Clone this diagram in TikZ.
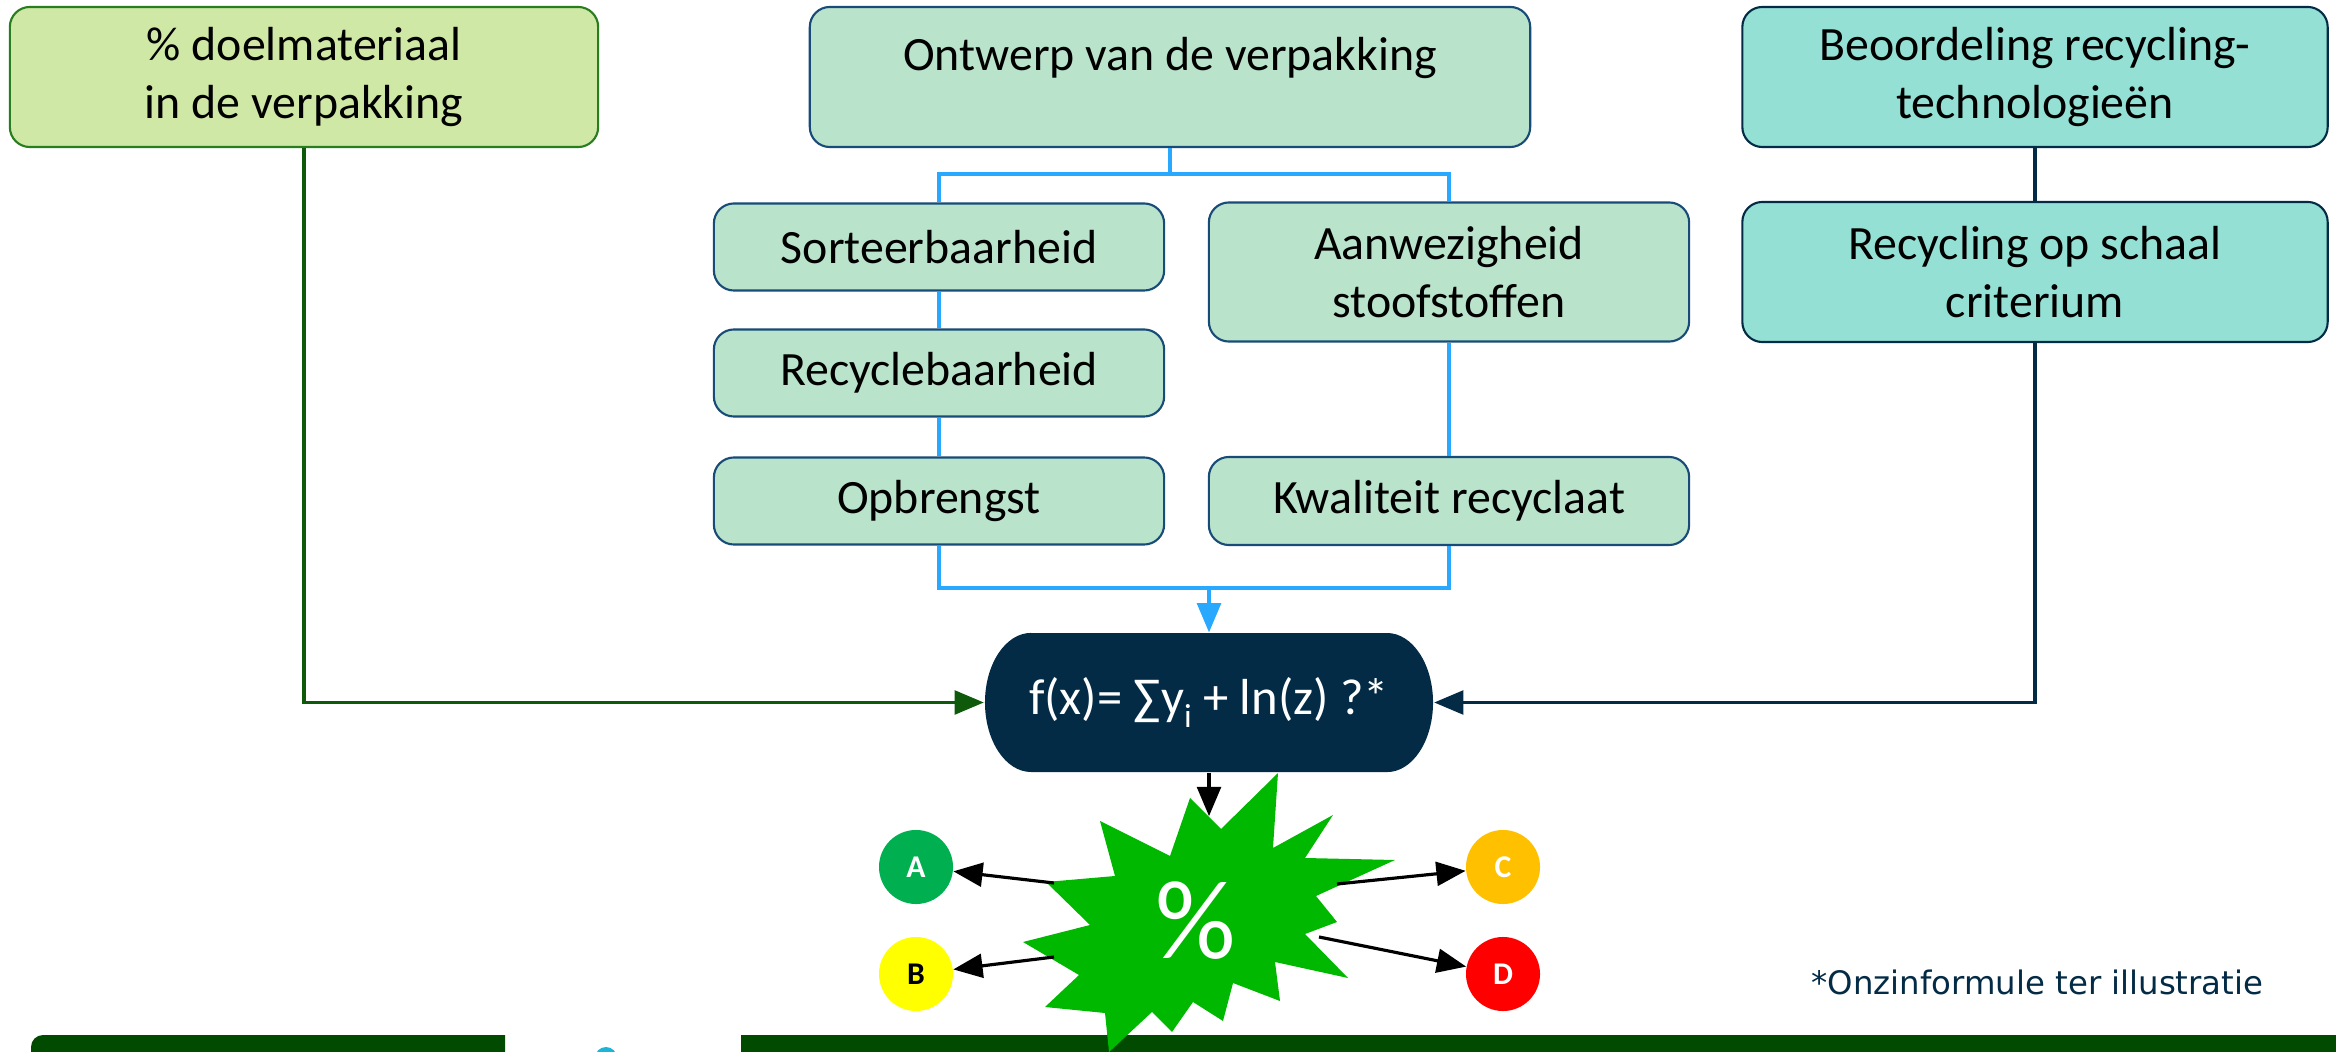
\documentclass[tikz,border=0pt]{standalone}
\usepackage{fontspec}
\setmainfont{Carlito}
\newfontfamily\notefont{DejaVu Sans}
\usepackage{pgf,tikz}
\usetikzlibrary{arrows}

\definecolor{doelgroen}{RGB}{207,232,166}
\definecolor{doelrand}{RGB}{40,125,30}
\definecolor{mint}{RGB}{185,227,202}
\definecolor{mintrand}{RGB}{25,75,120}
\definecolor{turkoois}{RGB}{148,224,212}
\definecolor{nachtblauw}{RGB}{3,43,70}
\definecolor{lijnblauw}{RGB}{40,168,255}
\definecolor{lijngroen}{RGB}{15,90,10}
\definecolor{stergroen}{RGB}{0,184,0}
\definecolor{balk}{RGB}{0,75,0}
\definecolor{stip}{RGB}{30,180,215}
\definecolor{klasA}{RGB}{0,176,80}
\definecolor{klasB}{RGB}{255,255,0}
\definecolor{klasC}{RGB}{255,192,0}
\definecolor{klasD}{RGB}{255,0,0}

\tikzset{
	blok/.style={rounded corners=0.2cm, line width=0.6pt, inner sep=0pt, align=center,
		font=\fontsize{13.6pt}{16.5pt}\selectfont},
	doelblok/.style={blok, fill=doelgroen, draw=doelrand},
	mintblok/.style={blok, fill=mint, draw=mintrand},
	techblok/.style={blok, fill=turkoois, draw=nachtblauw},
	klasse/.style={circle, inner sep=0pt, minimum size=0.74cm,
		font=\bfseries\fontsize{9pt}{9pt}\selectfont},
	pijl/.style={line width=0.9pt, color=black}
}

\begin{document}
\begin{tikzpicture}[x=0.01cm, y=-0.01cm, >=triangle 45]
	\useasboundingbox (0,0) rectangle (2336,1052);

	% bovenste rij
	\node[doelblok, minimum width=5.88cm, minimum height=1.4cm] (doel) at (304,77) {\% doelmateriaal\\in de verpakking};
	\node[mintblok, minimum width=7.2cm, text height=0.64cm, text depth=0.76cm] (ontwerp) at (1170,77) {Ontwerp van de verpakking};
	\node[techblok, minimum width=5.85cm, minimum height=1.4cm] (beoordeling) at (2035,77) {Beoordeling recycling-\\technologieën};
	\node[techblok, minimum width=5.85cm, minimum height=1.4cm] (schaal) at (2035,272) {Recycling op schaal\\criterium};

	% criteria ontwerp
	\node[mintblok, minimum width=4.5cm, minimum height=0.87cm] (sorteer) at (939,247) {Sorteerbaarheid};
	\node[mintblok, minimum width=4.5cm, minimum height=0.87cm] (recycle) at (939,373) {Recyclebaarheid};
	\node[mintblok, minimum width=4.5cm, minimum height=0.87cm] (opbrengst) at (939,501) {Opbrengst};
	\node[mintblok, minimum width=4.8cm, minimum height=1.39cm] (aanwezig) at (1449,272) {Aanwezigheid\\stoofstoffen};
	\node[mintblok, minimum width=4.8cm, minimum height=0.88cm] (kwaliteit) at (1449,501) {Kwaliteit recyclaat};

	% formule
	\fill[nachtblauw] (1031,633) -- (1387,633) arc[start angle=90, end angle=-90, x radius=0.46cm, y radius=0.695cm]
		-- (1031,772) arc[start angle=270, end angle=90, x radius=0.46cm, y radius=0.695cm] -- cycle;
	\node[text=white, inner sep=0pt, minimum width=4.49cm, minimum height=1.39cm, font=\fontsize{14.4pt}{17pt}\selectfont]
		(formule) at (1209,702.5) {f(x)= ∑y\raisebox{-0.55ex}{\fontsize{9.5pt}{9.5pt}\selectfont i} + ln(z) ?*};

	% lijnen
	\coordinate (splits) at (1170,174);
	\coordinate (samen) at (1209,588);
	\draw[line width=0.9pt, lijnblauw] (ontwerp.south) -- (splits);
	\draw[line width=0.9pt, lijnblauw] (sorteer.north) |- (splits) -| (aanwezig.north);
	\draw[line width=0.9pt, lijnblauw] (sorteer.south) -- (recycle.north);
	\draw[line width=0.9pt, lijnblauw] (recycle.south) -- (opbrengst.north);
	\draw[line width=0.9pt, lijnblauw] (aanwezig.south) -- (kwaliteit.north);
	\draw[line width=0.9pt, lijnblauw] (opbrengst.south) |- (samen) -| (kwaliteit.south);
	\draw[->, line width=0.9pt, lijnblauw] (samen) -- (formule.north);
	\draw[->, line width=0.9pt, lijngroen] (doel.south) |- (formule.west);
	\draw[line width=0.9pt, nachtblauw] (beoordeling.south) -- (schaal.north);
	\draw[->, line width=0.9pt, nachtblauw] (schaal.south) |- (formule.east);

	% balk onderaan
	\fill[balk, rounded corners=0.12cm] (31,1100) -- (31,1035) [sharp corners] -- (505,1035) -- (505,1100) -- cycle;
	\fill[balk] (741,1035) rectangle (2400,1100);
	\fill[stip] (606,1058) circle[radius=0.11cm];

	% ster
	\fill[stergroen] (1046,882) -- (1090,925) -- (1023,942) -- (1079,975) -- (1045,1007) -- (1105,1013)
		-- (1109,1052) -- (1152,1012) -- (1172,1032) -- (1193,1002) -- (1223,1021) -- (1233,983)
		-- (1280,1001) -- (1275,962) -- (1348,978) -- (1305,934) -- (1337,922) -- (1316,896)
		-- (1395,860) -- (1305,858) -- (1333,815) -- (1273,848) -- (1278,773) -- (1221,829)
		-- (1190,798) -- (1170,856) -- (1100,821) -- (1115,876) -- cycle;
	\node[text=white, inner sep=0pt, font=\fontsize{32pt}{32pt}\selectfont] (procent) at (1196,921) {\%};

	\coordinate (stertop) at (1209,816);
	\coordinate (uitA) at (1054,883);
	\coordinate (uitB) at (1054,957);
	\coordinate (uitC) at (1337,884);
	\coordinate (uitD) at (1319,937);
	\draw[->, pijl] (formule.south) -- (stertop);

	\foreach \naam/\px/\py/\kleur/\tekst in {A/916/867/klasA/white, B/916/974/klasB/black, C/1503/867/klasC/white, D/1503/974/klasD/white}
	\node[klasse, fill=\kleur, text=\tekst] (\naam) at (\px,\py) {\naam};
	\foreach \naam in {A,B,C,D}
	\draw[->, pijl] (uit\naam) -- (\naam);

	\node[anchor=base east, inner sep=0pt, text=nachtblauw, font=\notefont\fontsize{9.2pt}{11pt}\selectfont] (noot) at (2264,994) {*Onzinformule ter illustratie};
\end{tikzpicture}
\end{document}
